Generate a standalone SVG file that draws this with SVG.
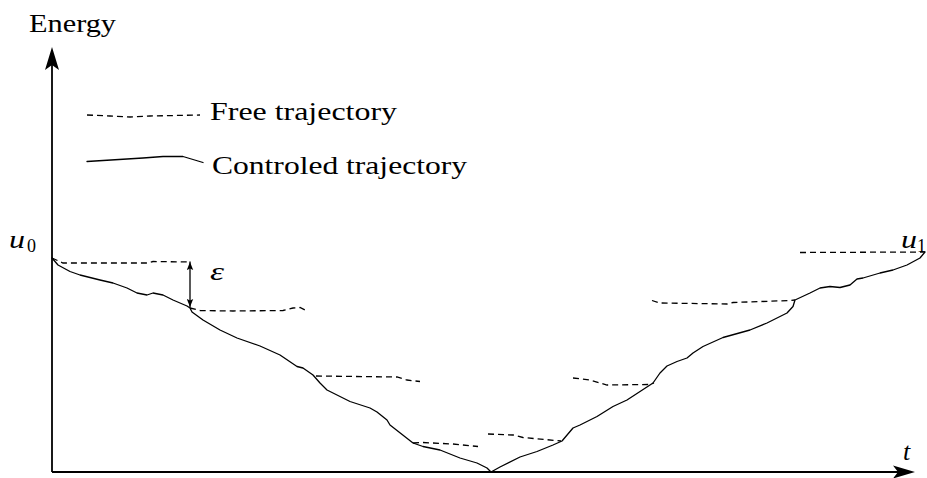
<svg xmlns="http://www.w3.org/2000/svg" width="927" height="478" viewBox="0 0 927 478">
<style>
text{font-family:"Liberation Serif","Times New Roman",serif;fill:#000;}
.lbl{font-size:26px;}
.math{font-size:26px;font-style:italic;}
.sub{font-size:18px;}
.axis{stroke:#000;stroke-width:1.8;fill:none;}
.ctrl{stroke:#000;stroke-width:1.3;fill:none;stroke-linejoin:round;stroke-linecap:round;}
.free{stroke:#000;stroke-width:1.3;fill:none;stroke-dasharray:6 4;}
.head{fill:#000;stroke:none;}
</style>
<defs>
<marker id="eps" viewBox="0 0 10 8" refX="10" refY="4" markerWidth="8" markerHeight="7" markerUnits="userSpaceOnUse" orient="auto-start-reverse">
<path d="M0,0 L10,4 L0,8 L2,4 Z" fill="#000"/>
</marker>
</defs>
<g id="axes">
<line class="axis" x1="52" y1="472" x2="52" y2="62"/>
<line class="axis" x1="52" y1="472" x2="902" y2="472"/>
<path class="head" d="M52,47 L59,70 L52,65 L45,70 Z"/>
<path class="head" d="M915,472 L893,465.5 L898,472 L893,478.5 Z"/>
</g>
<g id="labels">
<text class="lbl" x="29" y="32" textLength="87" lengthAdjust="spacingAndGlyphs">Energy</text>
<text class="math" x="903" y="460">t</text>
<text class="math" x="9" y="248" textLength="16" lengthAdjust="spacingAndGlyphs">u</text>
<text class="sub" x="27" y="252">0</text>
<text class="math" x="901" y="248" textLength="16" lengthAdjust="spacingAndGlyphs">u</text>
<text class="sub" x="917" y="252">1</text>
<text class="math" x="210" y="280" textLength="14" lengthAdjust="spacingAndGlyphs">ε</text>
</g>
<g id="legend">
<path class="free" d="M87,115 L110,116 L130,117 L150,116 L200,115"/>
<text class="lbl" x="210" y="120" textLength="187" lengthAdjust="spacingAndGlyphs">Free trajectory</text>
<path class="ctrl" d="M87,161.5 L143,158 L163,156.5 L183,156.5 L203,162.5"/>
<text class="lbl" x="212" y="174" textLength="255" lengthAdjust="spacingAndGlyphs">Controled trajectory</text>
</g>
<g id="connectors">
<path id="controlled" class="ctrl" d="M52,258 L58,265 L70,271.5 L80,275 L100,280 L113,283 L127,288 L137,293 L147,295 L153,293 L163,295 L173,300 L187,306 L190,308 L192,312 L203,320 L220,330 L237,338 L260,346 L280,355 L297,366.5 L303,368 L313,375 L320,383 L327,390 L350,401.5 L370,408 L377,412 L387,420 L390,425 L413,443 L423,446.5 L440,450 L460,458 L477,463 L487,468 L491,472 L500,467 L520,457 L537,451.5 L553,445 L562,441 L573,428 L580,425 L597,416.5 L613,406.5 L627,400 L650,385 L653,383 L660,373 L667,366 L677,361.5 L687,358 L693,353 L703,346.5 L723,337.5 L750,330 L767,323 L787,313 L793,306.5 L795,300 L810,293 L820,288 L830,286.5 L840,287.5 L850,285 L857,279 L863,278 L880,273 L893,270 L907,265 L920,258 L925,252"/>
<path class="free" d="M52,258 L63,263 L100,263 L147,263 L153,261.5 L190,262"/>
<path class="free" d="M190,308 L200,310.5 L233,311 L283,310.5 L293,308 L300,307.5 L305,310"/>
<path class="free" d="M316,376 L397,377 L407,380 L420,381.5"/>
<path class="free" d="M413,443 L423,442.5 L453,444 L478,446.5"/>
<path class="free" d="M488,434 L513,435 L523,437.5 L561,441"/>
<path class="free" d="M573,378 L590,380 L607,385 L650,384.5 L654,383"/>
<path class="free" d="M652,300.5 L660,303 L727,304 L733,302.5 L790,300.5 L795,300"/>
<path class="free" d="M800,252.5 L925,252"/>
<line class="ctrl" x1="190" y1="262" x2="190" y2="307" marker-start="url(#eps)" marker-end="url(#eps)"/>
</g>
</svg>
